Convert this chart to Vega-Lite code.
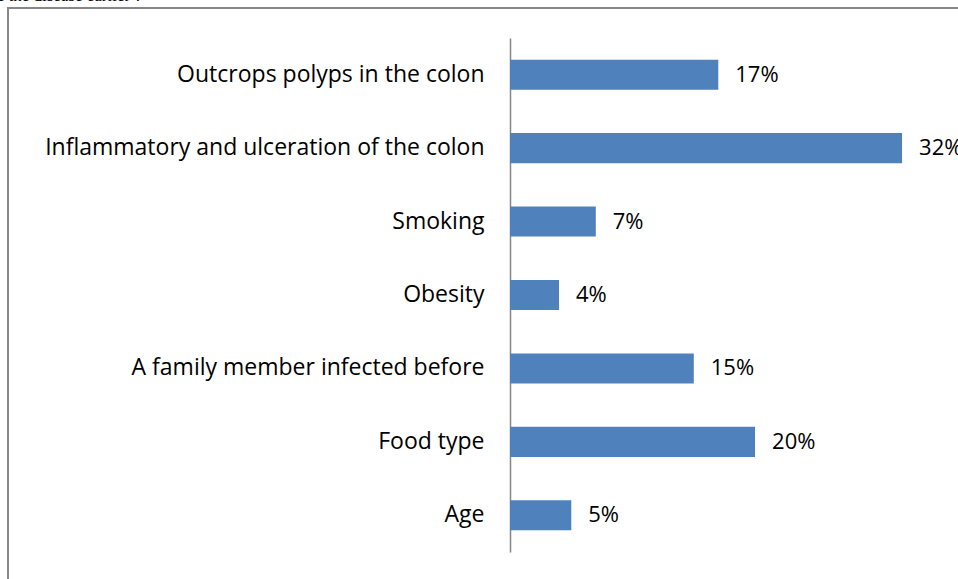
{
  "$schema": "https://vega.github.io/schema/vega-lite/v6.json",
  "width": 952,
  "height": 574,
  "autosize": {"type": "none"},
  "padding": {"left": 8, "top": 8, "right": 0, "bottom": 0},
  "background": "white",
  "title": {
    "text": "of the disease earlier ?",
    "anchor": "start",
    "frame": "group",
    "font": "Liberation Serif",
    "fontSize": 17,
    "fontWeight": "normal",
    "color": "#000000",
    "baseline": "alphabetic",
    "offset": 0,
    "dy": 10,
    "dx": -18
  },
  "config": {
    "view": {"stroke": "#878787", "strokeWidth": 2},
    "font": "Open Sans"
  },
  "data": {
    "values": [
      {"factor": "Outcrops polyps in the colon", "pct": 17, "label": "17%"},
      {"factor": "Inflammatory and ulceration of the colon", "pct": 32, "label": "32%"},
      {"factor": "Smoking", "pct": 7, "label": "7%"},
      {"factor": "Obesity", "pct": 4, "label": "4%"},
      {"factor": "A family member infected before", "pct": 15, "label": "15%"},
      {"factor": "Food type", "pct": 20, "label": "20%"},
      {"factor": "Age", "pct": 5, "label": "5%"}
    ]
  },
  "encoding": {
    "y": {
      "field": "factor",
      "type": "nominal",
      "sort": null,
      "scale": {"range": [30, 544], "paddingInner": 0.59, "paddingOuter": 0.295},
      "axis": {
        "title": null,
        "orient": "left",
        "offset": -502,
        "ticks": false,
        "domainColor": "#868686",
        "domainWidth": 1.5,
        "labelPadding": 26,
        "labelFontSize": 23,
        "labelFont": "Open Sans",
        "labelFontWeight": "normal",
        "labelColor": "#000000",
        "labelLimit": 0
      }
    },
    "x": {
      "field": "pct",
      "type": "quantitative",
      "scale": {"domain": [-40.98, 36.73], "nice": false, "zero": false},
      "axis": null
    }
  },
  "layer": [
    {"mark": {"type": "bar", "color": "#4F81BD"}},
    {
      "mark": {"type": "text", "align": "left", "baseline": "middle", "dx": 17, "fontSize": 22, "font": "Open Sans", "fontWeight": "normal", "color": "#000000", "clip": false},
      "encoding": {"text": {"field": "label"}}
    }
  ]
}
